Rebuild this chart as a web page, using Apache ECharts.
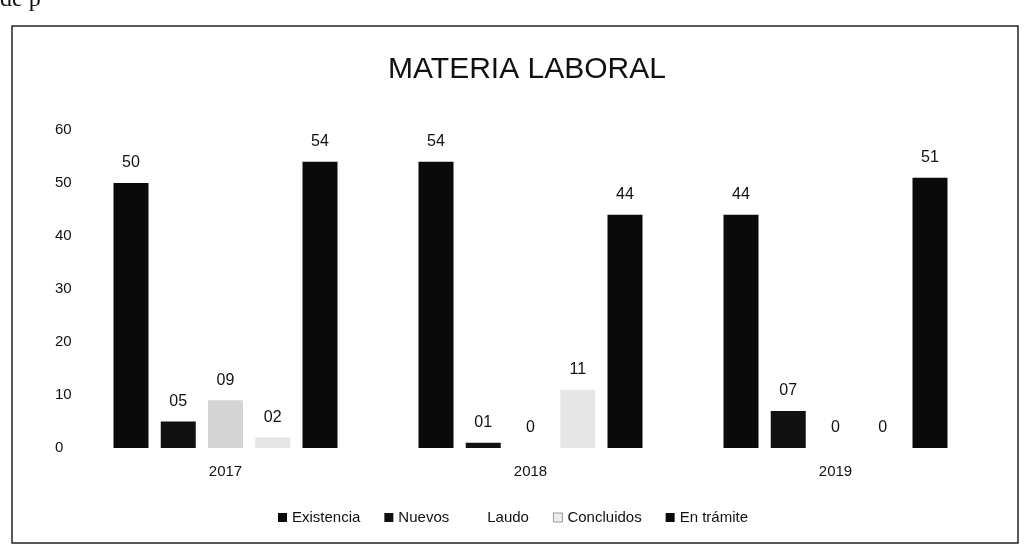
<!DOCTYPE html>
<html lang="es">
<head>
    <meta charset="UTF-8">
    <title>Materia Laboral</title>
    <script src="https://cdn.jsdelivr.net/npm/echarts@6/dist/echarts.min.js"></script>
    <style>
        html, body { margin: 0; padding: 0; background: #fff; }
        #main { width: 1026px; height: 558px; }
    </style>
</head>
<body>
<div id="main"></div>
<script type="text/javascript">
    // datos
    var years = ['2017', '2018', '2019'];
    var existencia = [50, 54, 44];
    var nuevos = [5, 1, 7];
    var laudo = [9, 0, 0];
    var concluidos = [2, 11, 0];
    var enTramite = [54, 44, 51];
    var yTicks = [0, 10, 20, 30, 40, 50, 60];

    function lbl(p) {
        var v = p.value;
        if (v === 0) return '0';
        return v < 10 ? '0' + v : String(v);
    }

    function serie(name, data, color, border) {
        return {
            name: name,
            type: 'bar',
            data: data,
            barWidth: 35,
            barGap: '35%',
            itemStyle: { color: color },
            label: {
                show: true,
                position: 'top',
                distance: 12,
                color: '#111',
                fontSize: 16,
                fontFamily: 'Liberation Sans, Arial, sans-serif',
                formatter: lbl
            }
        };
    }

    var myChart = echarts.init(document.getElementById('main'));
    myChart.setOption({
        animation: false,
        backgroundColor: '#fff',
        title: {
            text: 'MATERIA LABORAL',
            left: 522,
            textAlign: 'center',
            top: 50,
            textStyle: {
                fontFamily: 'Liberation Sans Narrow, Liberation Sans, Arial, sans-serif',
                fontWeight: 'normal',
                fontSize: 30,
                color: '#111'
            }
        },
        graphic: [
            {
                type: 'rect',
                shape: { x: 12, y: 26, width: 1006, height: 517 },
                style: { fill: 'none', stroke: '#222', lineWidth: 1.5 },
                silent: true
            },
            {
                type: 'text',
                left: 0,
                top: -12,
                style: { text: 'de p', fontFamily: 'Liberation Serif, serif', fontSize: 24, fill: '#111' }
            }
        ],
        legend: {
            bottom: 28,
            left: 'center',
            itemWidth: 9,
            itemHeight: 9,
            itemGap: 24,
            icon: 'rect',
            textStyle: { fontSize: 15, color: '#111', fontFamily: 'Liberation Sans, Arial, sans-serif' },
            data: [
                { name: 'Existencia' },
                { name: 'Nuevos' },
                { name: 'Laudo', itemStyle: { opacity: 0 } },
                { name: 'Concluidos', itemStyle: { color: '#ececec', borderColor: '#999', borderWidth: 1 } },
                { name: 'En trámite' }
            ]
        },
        grid: { left: 73, right: 38, top: 130, bottom: 110 },
        xAxis: {
            type: 'category',
            data: years,
            axisLine: { show: false },
            axisTick: { show: false },
            axisLabel: {
                margin: 16,
                fontSize: 15,
                color: '#111',
                fontFamily: 'Liberation Sans, Arial, sans-serif'
            }
        },
        yAxis: {
            type: 'value',
            min: yTicks[0],
            max: yTicks[yTicks.length - 1],
            interval: 10,
            axisLine: { show: false },
            axisTick: { show: false },
            splitLine: { show: false },
            axisLabel: {
                margin: 18,
                align: 'left',
                fontSize: 15,
                color: '#111',
                fontFamily: 'Liberation Sans, Arial, sans-serif'
            }
        },
        series: [
            serie('Existencia', existencia, '#0a0a0a'),
            serie('Nuevos', nuevos, '#111'),
            serie('Laudo', laudo, '#d4d4d4'),
            serie('Concluidos', concluidos, '#e6e6e6'),
            serie('En trámite', enTramite, '#0a0a0a')
        ]
    });
</script>
</body>
</html>
